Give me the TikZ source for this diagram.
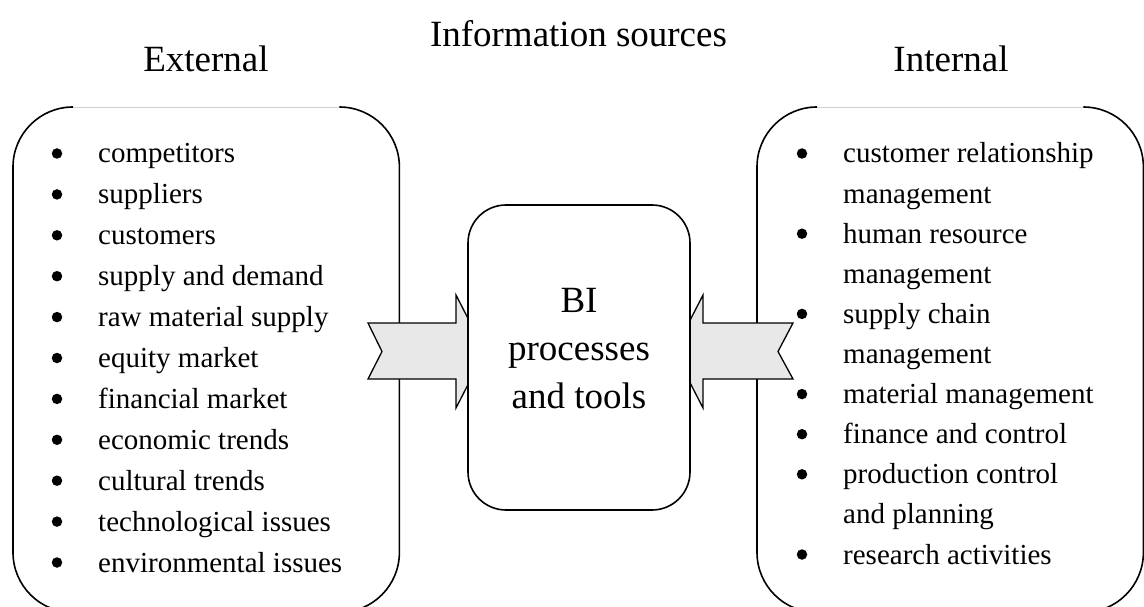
\documentclass[tikz,border=0pt]{standalone}
\usepackage{fontspec}
\setmainfont{Liberation Serif}
\begin{document}
\begin{tikzpicture}[x=1pt,y=-1pt,
  outline/.style={line width=1.6pt},
  topedge/.style={draw=black!18, line width=0.9pt},
  srcbox/.style={rectangle, draw=none, minimum width=386pt, minimum height=505pt, inner sep=0pt, anchor=north west},
  hubbox/.style={rectangle, draw, fill=white, line width=1.6pt, rounded corners=38pt, minimum width=222pt, minimum height=305pt, inner sep=0pt},
  flow/.style={draw, fill=black!9, line width=1.3pt, line join=miter},
  head/.style={font=\fontsize{37}{44}\selectfont, anchor=base, inner sep=0pt},
  item/.style={font=\fontsize{29}{35}\selectfont, anchor=base west, inner sep=0pt},
  dot/.style={circle, fill=black, inner sep=0pt, minimum size=10.5pt},
]
\clip (0,0) rectangle (1144,607);

% source boxes, open at the bottom of the page
\node[srcbox] (ext) at (13,107) {};
\node[srcbox] (int) at (757,107) {};
\foreach \b in {ext,int}{
  \draw[outline, rounded corners=60pt] ([xshift=60pt]\b.north west) -| (\b.south west)
    -| (\b.north east) -- ([xshift=-60pt]\b.north east);
  \draw[topedge] ([xshift=60pt]\b.north west) -- ([xshift=-60pt]\b.north east);
}

% flow arrows into the hub
\draw[flow] (368,323) -- (456,323) -- (456,295) -- (485,351.5) -- (456,408)
  -- (456,379) -- (368,379) -- (382,351.5) -- cycle;
\draw[flow] (793,323) -- (703,323) -- (703,295) -- (674,351.5) -- (703,408)
  -- (703,379) -- (793,379) -- (778,351.5) -- cycle;

% central hub
\node[hubbox] (hub) at (579,357.5) {};
\node[head] (hub1) at (579,312) {BI};
\node[head] (hub2) at (579,360) {processes};
\node[head] (hub3) at (579,408) {and tools};

% headings
\node[head] (title) at (578.5,47) {Information sources};
\node[head] (extlabel) at (206,72) {External};
\node[head] (intlabel) at (951,72) {Internal};

% external sources
\foreach \t [count=\i from 0] in {competitors, suppliers, customers, supply and demand,
  raw material supply, equity market, financial market, economic trends,
  cultural trends, technological issues, environmental issues}{
  \node[item] (e\i) at (98,{163+40.9*\i}) {\t};
  \node[dot] (ed\i) at (57,{163+40.9*\i-9.5}) {};
}

% internal sources
\foreach \b/\t [count=\i from 0] in {1/customer relationship, 0/management,
  1/human resource, 0/management, 1/supply chain, 0/management,
  1/material management, 1/finance and control, 1/production control,
  0/and planning, 1/research activities}{
  \node[item] (n\i) at (843,{163+40.1*\i}) {\t};
  \ifnum\b=1 \node[dot] (nd\i) at (802,{163+40.1*\i-9.5}) {};\fi
}
\end{tikzpicture}
\end{document}
